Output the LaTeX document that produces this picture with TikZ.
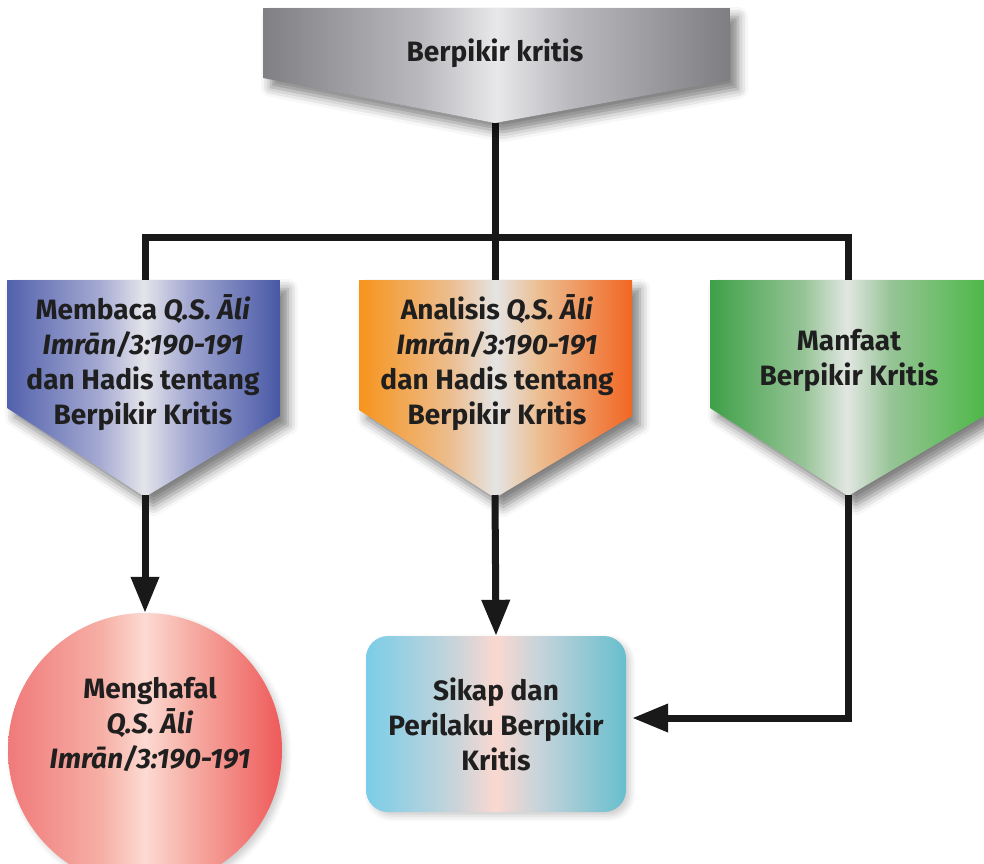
\documentclass[tikz,border=0pt]{standalone}
\usepackage{fontspec}
\setmainfont{Fira Sans}
\usetikzlibrary{arrows.meta,shadows.blur}

\definecolor{gA}{RGB}{128,128,132}
\definecolor{gB}{RGB}{185,185,190}
\definecolor{gC}{RGB}{232,232,234}
\definecolor{gD}{RGB}{125,125,130}
\definecolor{bA}{RGB}{82,97,172}
\definecolor{bB}{RGB}{165,170,210}
\definecolor{bC}{RGB}{228,228,234}
\definecolor{bD}{RGB}{72,88,166}
\definecolor{oA}{RGB}{247,148,29}
\definecolor{oB}{RGB}{236,190,145}
\definecolor{oC}{RGB}{228,228,228}
\definecolor{oD}{RGB}{242,102,34}
\definecolor{grA}{RGB}{62,160,72}
\definecolor{grB}{RGB}{150,196,150}
\definecolor{grC}{RGB}{226,230,226}
\definecolor{grD}{RGB}{78,184,72}
\definecolor{rA}{RGB}{240,122,122}
\definecolor{rB}{RGB}{246,175,165}
\definecolor{rC}{RGB}{252,218,210}
\definecolor{rD}{RGB}{238,90,90}
\definecolor{cA}{RGB}{122,205,232}
\definecolor{cB}{RGB}{200,212,218}
\definecolor{cC}{RGB}{250,216,208}
\definecolor{cD}{RGB}{104,190,206}

\pgfdeclarehorizontalshading{graysh}{100bp}{color(0bp)=(gA); color(25bp)=(gA); color(42bp)=(gB); color(50bp)=(gC); color(58bp)=(gB); color(75bp)=(gD); color(100bp)=(gD)}
\pgfdeclarehorizontalshading{bluesh}{100bp}{color(0bp)=(bA); color(25bp)=(bA); color(42bp)=(bB); color(50bp)=(bC); color(58bp)=(bB); color(75bp)=(bD); color(100bp)=(bD)}
\pgfdeclarehorizontalshading{orangesh}{100bp}{color(0bp)=(oA); color(25bp)=(oA); color(42bp)=(oB); color(50bp)=(oC); color(58bp)=(oB); color(75bp)=(oD); color(100bp)=(oD)}
\pgfdeclarehorizontalshading{greensh}{100bp}{color(0bp)=(grA); color(25bp)=(grA); color(42bp)=(grB); color(50bp)=(grC); color(58bp)=(grB); color(75bp)=(grD); color(100bp)=(grD)}
\pgfdeclarehorizontalshading{redsh}{100bp}{color(0bp)=(rA); color(25bp)=(rA); color(42bp)=(rB); color(50bp)=(rC); color(58bp)=(rB); color(75bp)=(rD); color(100bp)=(rD)}
\pgfdeclarehorizontalshading{cyansh}{100bp}{color(0bp)=(cA); color(25bp)=(cA); color(42bp)=(cB); color(50bp)=(cC); color(58bp)=(cB); color(75bp)=(cD); color(100bp)=(cD)}

\tikzset{
  conn/.style={line width=7pt, draw=black!90, line join=miter},
  arr/.style={conn, -{Triangle[length=36pt,width=27pt]}},
  shad/.style={blur shadow={shadow xshift=8pt, shadow yshift=-9pt, shadow blur radius=10pt, shadow opacity=50}},
  lshad/.style={blur shadow={shadow xshift=4pt, shadow yshift=-4pt, shadow blur radius=6pt, shadow opacity=20}},
  lbl/.style={inner sep=0pt, align=center, text=black!88, font=\bfseries\fontsize{28}{35}\selectfont},
}

\begin{document}
\begin{tikzpicture}[x=1pt,y=-1pt]
\useasboundingbox (0,0) rectangle (984,863);

% coordinates
\coordinate (tTip) at (495,123);
\coordinate (bTop) at (145,282);
\coordinate (oTop) at (495,282);
\coordinate (gTop) at (848,282);
\coordinate (bus) at (495,237);
\coordinate (bTip) at (145,495);
\coordinate (oTip) at (495,495);
\coordinate (gTip) at (848,495);

% connectors (behind shapes)
\draw[conn] (tTip) -- (oTop);
\draw[conn] (bTop) |- (bus) -| (gTop);

% shapes
\path[shading=graysh, shad] (263,8) -- (730,8) -- (730,80) -- (495,123) -- (263,78) -- cycle;
\path[shading=bluesh, shad] (7,280) -- (280,280) -- (280,416) -- (145,497) -- (7,408) -- cycle;
\path[shading=orangesh, shad] (359,280) -- (632,280) -- (632,416) -- (495,498) -- (359,410) -- cycle;
\path[shading=greensh, shad] (710,280) -- (984,280) -- (984,416) -- (848,496) -- (710,408) -- cycle;

\node[circle, minimum size=274pt, inner sep=0pt, shading=redsh, lshad] (circ) at (145,750) {};
\node[rectangle, rounded corners=22pt, minimum width=260pt, minimum height=176pt, inner sep=0pt, shading=cyansh, lshad, lbl] (rect) at (496,724) {Sikap dan\\Perilaku Berpikir\\Kritis};

% texts
\node[lbl] (tT) at (495,53) {Berpikir kritis};
\node[lbl] (bT) at (143,363) {Membaca \textit{Q.S. Āli}\\\textit{Imrān/3:190-191}\\dan Hadis tentang\\Berpikir Kritis};
\node[lbl] (oT) at (497,363) {Analisis \textit{Q.S. Āli}\\\textit{Imrān/3:190-191}\\dan Hadis tentang\\Berpikir Kritis};
\node[lbl] (gT) at (849,360) {Manfaat\\Berpikir Kritis};
\node[lbl] (cT) at (150,724) {Menghafal\\\textit{Q.S. Āli}\\\textit{Imrān/3:190-191}};

% arrows
\draw[arr] (bTip) -- (circ.north);
\draw[arr] (oTip) -- (rect.north);
\draw[arr, shorten >=6pt] (gTip) |- ([yshift=6pt]rect.east);
\end{tikzpicture}
\end{document}
